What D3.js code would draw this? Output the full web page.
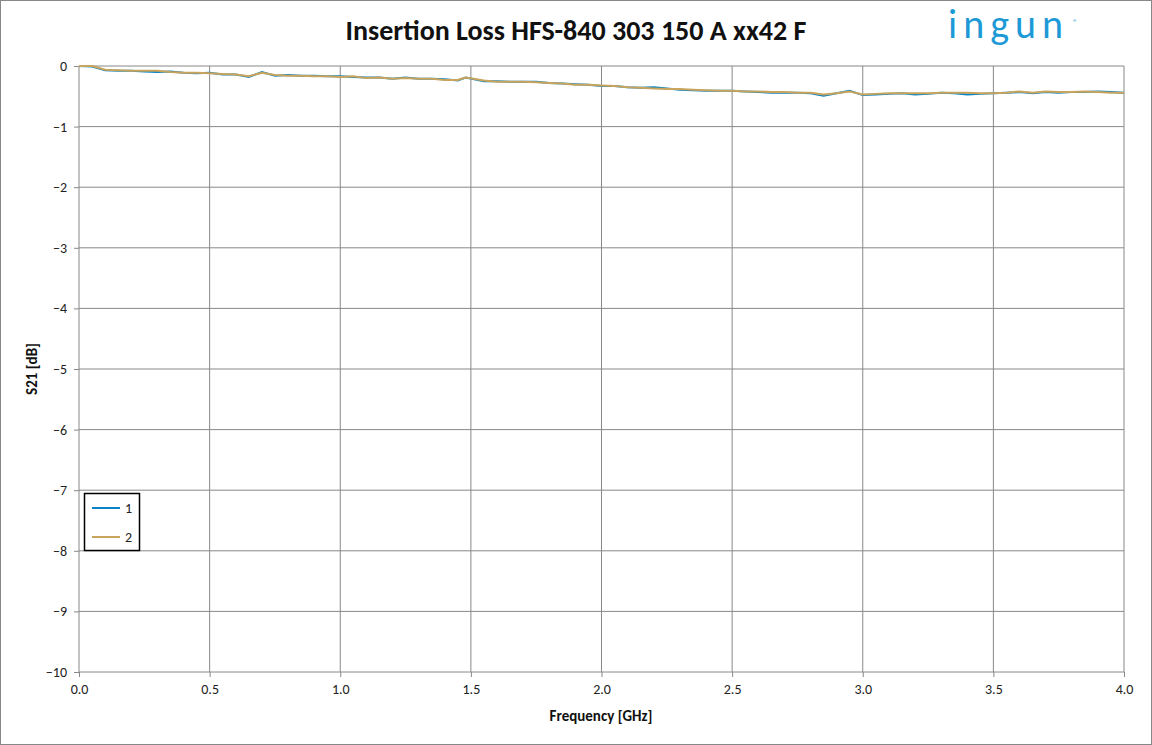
<!DOCTYPE html>
<html><head><meta charset="utf-8">
<script src="https://cdn.jsdelivr.net/npm/d3@7"></script>
<style>body{margin:0;background:#fff}text{font-family:Calibri,Carlito,"Liberation Sans",Arial,sans-serif}</style>
</head><body><svg width="1152" height="745"></svg>
<script>
var freq = [0,0.05,0.1,0.15,0.2,0.25,0.3,0.35,0.4,0.45,0.5,0.55,0.6,0.65,0.7,0.75,0.8,0.85,0.9,0.95,
  1,1.05,1.1,1.15,1.2,1.25,1.3,1.35,1.4,1.45,1.48,1.55,1.6,1.65,1.7,1.75,1.8,1.85,1.9,1.95,
  2,2.05,2.1,2.15,2.2,2.25,2.3,2.35,2.4,2.45,2.5,2.55,2.6,2.65,2.7,2.75,2.8,2.85,2.9,2.95,
  3,3.05,3.1,3.15,3.2,3.25,3.3,3.35,3.4,3.45,3.5,3.55,3.6,3.65,3.7,3.75,3.8,3.85,3.9,3.95,4];
var s1 = [0,-0.01,-0.07,-0.08,-0.08,-0.09,-0.10,-0.09,-0.11,-0.12,-0.11,-0.14,-0.14,-0.18,-0.10,-0.16,-0.15,-0.16,-0.16,-0.17,
  -0.17,-0.18,-0.19,-0.19,-0.21,-0.19,-0.21,-0.21,-0.22,-0.24,-0.19,-0.25,-0.25,-0.26,-0.26,-0.26,-0.28,-0.29,-0.30,-0.31,
  -0.33,-0.33,-0.35,-0.36,-0.35,-0.37,-0.39,-0.40,-0.41,-0.41,-0.41,-0.42,-0.43,-0.44,-0.44,-0.44,-0.45,-0.49,-0.45,-0.41,
  -0.48,-0.47,-0.46,-0.45,-0.47,-0.46,-0.44,-0.45,-0.47,-0.46,-0.45,-0.44,-0.43,-0.45,-0.43,-0.44,-0.43,-0.43,-0.42,-0.43,-0.44];
var s2 = [0,0,-0.06,-0.07,-0.08,-0.08,-0.08,-0.10,-0.11,-0.11,-0.12,-0.13,-0.14,-0.17,-0.11,-0.15,-0.16,-0.16,-0.17,-0.17,
  -0.18,-0.17,-0.20,-0.19,-0.21,-0.20,-0.21,-0.21,-0.23,-0.23,-0.19,-0.24,-0.26,-0.26,-0.26,-0.27,-0.28,-0.29,-0.31,-0.31,
  -0.32,-0.33,-0.35,-0.36,-0.37,-0.38,-0.38,-0.39,-0.40,-0.41,-0.41,-0.42,-0.42,-0.43,-0.43,-0.44,-0.44,-0.47,-0.45,-0.42,
  -0.47,-0.46,-0.45,-0.45,-0.45,-0.45,-0.44,-0.44,-0.44,-0.45,-0.45,-0.44,-0.42,-0.44,-0.42,-0.43,-0.43,-0.42,-0.43,-0.44,-0.44];
var seriesNames = ["1", "2"];
var colors = ["#0b84c6", "#c8a45c"];
var xTicks = [0,0.5,1,1.5,2,2.5,3,3.5,4];
var yTicks = d3.range(0, -11, -1);

var svg = d3.select("svg");
svg.append("rect").attr("x",0.5).attr("y",0.5).attr("width",1151).attr("height",744)
  .attr("fill","#fff").attr("stroke","#888");

var x = d3.scaleLinear().domain([0,4]).range([79,1124]);
var y = d3.scaleLinear().domain([-10,0]).range([672,66]);

var g = svg.append("g");
g.selectAll(".vx").data(xTicks).enter().append("line")
  .attr("x1",d=>x(d)).attr("x2",d=>x(d)).attr("y1",66).attr("y2",672)
  .attr("stroke","#888").attr("stroke-width",1);
g.selectAll(".hy").data(yTicks).enter().append("line")
  .attr("x1",79).attr("x2",1124).attr("y1",d=>y(d)).attr("y2",d=>y(d))
  .attr("stroke","#888").attr("stroke-width",1);

svg.append("g").attr("transform","translate(0,672)")
  .call(d3.axisBottom(x).tickValues(xTicks).tickFormat(d3.format(".1f")).tickSize(5))
  .call(a=>{a.select(".domain").remove();a.selectAll("line").attr("stroke","#888");
    a.selectAll("text").attr("font-size",14).attr("fill","#222").attr("dy","1em");});
svg.append("g").attr("transform","translate(79,0)")
  .call(d3.axisLeft(y).tickValues(yTicks).tickSize(5))
  .call(a=>{a.select(".domain").remove();a.selectAll("line").attr("stroke","#888");
    a.selectAll("text").attr("font-size",14).attr("fill","#222").attr("x",-12);});

var line = d3.line().x((d,i)=>x(freq[i])).y(d=>y(d));
[s1, s2].forEach(function(s, i){
  svg.append("path").datum(s).attr("d",line).attr("fill","none")
    .attr("stroke",colors[i]).attr("stroke-width",2);
});

svg.append("text").attr("x",576).attr("y",40).attr("text-anchor","middle")
  .attr("font-size",28).attr("font-weight","bold").attr("fill","#111")
  .text("Insertion Loss HFS-840 303 150 A xx42 F");
svg.append("text").attr("x",601).attr("y",721).attr("text-anchor","middle")
  .attr("font-size",15).attr("font-weight","bold").attr("fill","#111").text("Frequency [GHz]");
svg.append("text").attr("transform","translate(37,369) rotate(-90)").attr("text-anchor","middle")
  .attr("font-size",15).attr("font-weight","bold").attr("fill","#111").text("S21 [dB]");

// logo
svg.append("text").attr("x",948).attr("y",38).attr("font-size",40)
  .attr("letter-spacing",7).attr("fill","#1d9ad6").attr("font-family","'DejaVu Sans'")
  .attr("textLength",122).text("ingun");
svg.append("text").attr("x",1073).attr("y",25).attr("font-size",9).attr("fill","#1d9ad6").text("®");

var lg = svg.append("g");
lg.append("rect").attr("x",84.5).attr("y",493.5).attr("width",55).attr("height",57)
  .attr("fill","#fff").attr("stroke","#000").attr("stroke-width",1.5);
seriesNames.forEach(function(n,i){
  var yy = 508 + i*29;
  lg.append("line").attr("x1",92).attr("x2",120).attr("y1",yy).attr("y2",yy)
    .attr("stroke",colors[i]).attr("stroke-width",2);
  lg.append("text").attr("x",125).attr("y",yy+5).attr("font-size",14).attr("fill","#222").text(n);
});
</script></body></html>
